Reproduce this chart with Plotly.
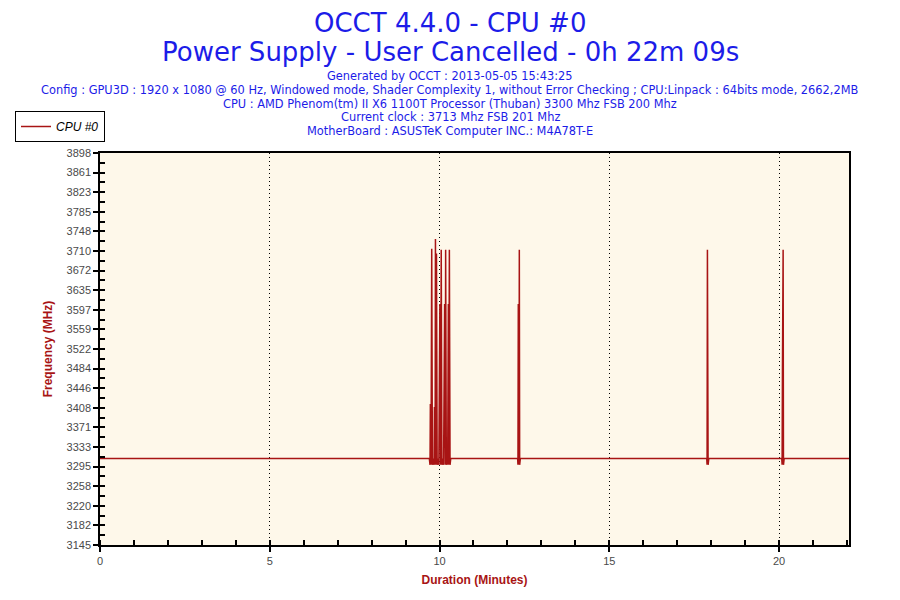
"""OCCT CPU #0 frequency log recreated with Plotly."""

import plotly.graph_objects as go

# --- data ---
TIME_MIN = [
    0, 9.70, 9.72, 9.73, 9.75, 9.77, 9.79, 9.82, 9.84, 9.85, 9.87, 9.88, 9.90, 9.91, 9.93,
    9.96, 9.98, 10.01, 10.03, 10.05, 10.07, 10.10, 10.12, 10.15, 10.17, 10.18, 10.20,
    10.23, 10.24, 10.26, 10.27, 10.29, 10.31, 10.33,
    12.30, 12.31, 12.32, 12.34, 12.35, 12.36, 12.38,
    17.87, 17.88, 17.89, 17.90, 17.91, 17.93,
    20.08, 20.09, 20.10, 20.12, 20.13, 20.15,
    22.06,
]
FREQ_MHZ = [
    3311, 3311, 3299, 3416, 3299, 3714, 3299, 3311, 3299, 3410, 3299, 3733, 3299, 3705, 3299,
    3311, 3299, 3608, 3299, 3712, 3299, 3311, 3299, 3608, 3299, 3712, 3299,
    3311, 3299, 3608, 3299, 3712, 3299, 3311,
    3311, 3299, 3608, 3299, 3712, 3299, 3311,
    3311, 3299, 3712, 3593, 3299, 3311,
    3311, 3299, 3486, 3712, 3299, 3311,
    3311,
]
Y_MIN, Y_MAX = 3145, 3898
Y_TICK_LABELS = [
    "3145", "3182", "3220", "3258", "3295", "3333", "3371", "3408", "3446", "3484", "3522",
    "3559", "3597", "3635", "3672", "3710", "3748", "3785", "3823", "3861", "3898",
]
X_TICKS = [0, 5, 10, 15, 20]
X_MAX = 22.06

TITLE_LINES = ["OCCT 4.4.0 - CPU #0", "Power Supply - User Cancelled - 0h 22m 09s"]
INFO_LINES = [
    "Generated by OCCT : 2013-05-05 15:43:25",
    "Config : GPU3D : 1920 x 1080 @ 60 Hz, Windowed mode, Shader Complexity 1, without Error Checking ; CPU:Linpack : 64bits mode, 2662,2MB",
    "CPU : AMD Phenom(tm) II X6 1100T Processor (Thuban) 3300 Mhz FSB 200 Mhz",
    "Current clock : 3713 Mhz FSB 201 Mhz",
    "MotherBoard : ASUSTeK Computer INC.: M4A78T-E",
]

FONT = "Liberation Sans"
TEXT_FONT = "DejaVu Sans"
BLUE = "#1c1ce8"
RED = "#a81414"
TICK_GREY = "#4a4a4a"

# the page puts the figure 8px in from the top-left corner, so screen
# positions measured on the reference are shifted back by that much
OFFSET = 8
LEFT_PX, RIGHT_PX, TOP_PX, BOTTOM_PX = 100 - OFFSET, 849 - OFFSET, 153 - OFFSET, 545 - OFFSET
plot_w = RIGHT_PX - LEFT_PX
plot_h = BOTTOM_PX - TOP_PX

step = (Y_MAX - Y_MIN) / (len(Y_TICK_LABELS) - 1)
y_tickvals = [Y_MIN + i * step for i in range(len(Y_TICK_LABELS))]

fig = go.Figure()
fig.add_trace(go.Scatter(
    x=TIME_MIN, y=FREQ_MHZ, mode="lines", name="CPU #0",
    line=dict(color=RED, width=1.5),
))

axis_common = dict(
    showline=True, linecolor="black", linewidth=1.5, mirror=True,
    ticks="outside", ticklen=5, tickcolor="black", tickwidth=1.5,
    zeroline=False,
    tickfont=dict(family=FONT, size=11, color=TICK_GREY),
)

fig.update_xaxes(
    **axis_common,
    range=[0, X_MAX], tickvals=X_TICKS,
    showgrid=True, gridcolor="black", griddash="1px,3px", gridwidth=1.2,
    minor=dict(dtick=1, tick0=0, ticks="inside", ticklen=5, tickcolor="black", tickwidth=1.5, showgrid=False),
    title=dict(text="<b>Duration (Minutes)</b>", font=dict(family=FONT, size=12, color=RED), standoff=10),
)
fig.update_yaxes(
    **axis_common,
    range=[Y_MIN, Y_MAX], tickvals=y_tickvals, ticktext=Y_TICK_LABELS,
    showgrid=False,
    minor=dict(tickvals=[v + step / 2 for v in y_tickvals[:-1]], ticks="inside", ticklen=5,
               tickcolor="black", tickwidth=1.5, showgrid=False),
    title=dict(text="<b>Frequency (MHz)</b>", font=dict(family=FONT, size=12, color=RED), standoff=11),
)

# overlay axes so the major ticks cross the axis line like the original
fig.update_layout(
    xaxis2=dict(overlaying="x", range=[0, X_MAX], tickvals=X_TICKS, ticks="inside", ticklen=5,
                tickcolor="black", tickwidth=1.5, showticklabels=False, showgrid=False, zeroline=False),
    yaxis2=dict(overlaying="y", range=[Y_MIN, Y_MAX], tickvals=y_tickvals, ticks="inside", ticklen=5,
                tickcolor="black", tickwidth=1.5, showticklabels=False, showgrid=False, zeroline=False),
)
fig.add_trace(go.Scatter(x=[None], y=[None], xaxis="x2", yaxis="y2", showlegend=False, hoverinfo="skip"))


def paper_x(px):
    return (px - OFFSET - LEFT_PX) / plot_w


def paper_y(px):
    return (BOTTOM_PX - (px - OFFSET)) / plot_h


annotations = [
    dict(text=TITLE_LINES[0], y=paper_y(23), font=dict(family=TEXT_FONT, size=26, color=BLUE)),
    dict(text=TITLE_LINES[1], y=paper_y(52), font=dict(family=TEXT_FONT, size=26, color=BLUE)),
]
for i, line in enumerate(INFO_LINES):
    annotations.append(dict(text=line, y=paper_y(76 + i * 13.8), font=dict(family=TEXT_FONT, size=11.4, color=BLUE)))
for a in annotations:
    a.update(x=paper_x(450), xref="paper", yref="paper", xanchor="center", yanchor="middle", showarrow=False)

fig.update_layout(
    width=900, height=600,
    margin=dict(l=LEFT_PX, r=900 - RIGHT_PX, t=TOP_PX, b=600 - BOTTOM_PX, autoexpand=False),
    paper_bgcolor="white",
    plot_bgcolor="#fef8ea",
    font=dict(family=FONT),
    annotations=annotations,
    showlegend=True,
    legend=dict(
        x=paper_x(15), y=paper_y(111), xanchor="left", yanchor="top",
        bgcolor="white", bordercolor="black", borderwidth=1,
        font=dict(family=FONT, size=12, color="black", style="italic"),
        itemwidth=30, tracegroupgap=0,
    ),
)

fig.write_html("out.html")
